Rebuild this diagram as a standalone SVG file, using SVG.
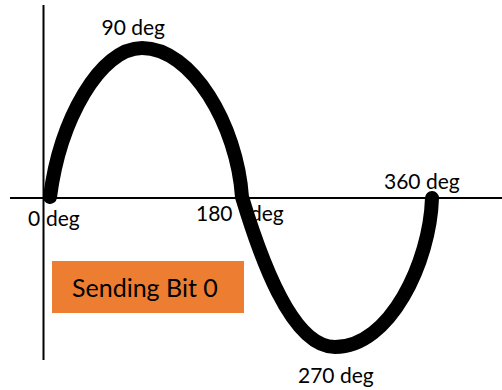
<svg xmlns="http://www.w3.org/2000/svg" width="502" height="390" viewBox="0 0 502 390">
  <style>
    .lbl { font-family: Lato, "Open Sans", "Liberation Sans", sans-serif; font-size: 21px; fill: #000; }
    .axis { stroke: #000; stroke-width: 2; fill: none; }
    .wave { stroke: #000; stroke-width: 14; fill: none; stroke-linecap: round; stroke-linejoin: round; }
  </style>
  <rect width="502" height="390" fill="#fff"/>

  <!-- angle labels -->
  <g id="labels">
    <text id="lbl-90" class="lbl" x="101.5" y="35">90 deg</text>
    <text id="lbl-0" class="lbl" x="28" y="226">0 <tspan x="46">deg</tspan></text>
    <text id="lbl-180" class="lbl" x="196" y="221">180 <tspan x="250">deg</tspan></text>
    <text id="lbl-360" class="lbl" x="384" y="189">360 deg</text>
    <text id="lbl-270" class="lbl" x="298" y="383">270 deg</text>
  </g>

  <!-- caption box -->
  <g id="caption">
    <rect x="52" y="261" width="192" height="52" fill="#ED7D31"/>
    <text x="72" y="297" font-family="Lato, 'Open Sans', 'Liberation Sans', sans-serif" font-size="25" fill="#000">Sending Bit 0</text>
  </g>

  <!-- axes -->
  <g id="axes">
    <line class="axis" x1="43.5" y1="5" x2="43.5" y2="360"/>
    <line class="axis" x1="10" y1="198" x2="502" y2="198"/>
  </g>

  <!-- one full period of the carrier -->
  <g id="wave">
    <path class="wave" d="M50,197 C60,120 100,48 142,48 C192,48 237,125 242,197 C258,250 290,347 335,347 C390,347 430,262 432,198"/>
  </g>
</svg>
